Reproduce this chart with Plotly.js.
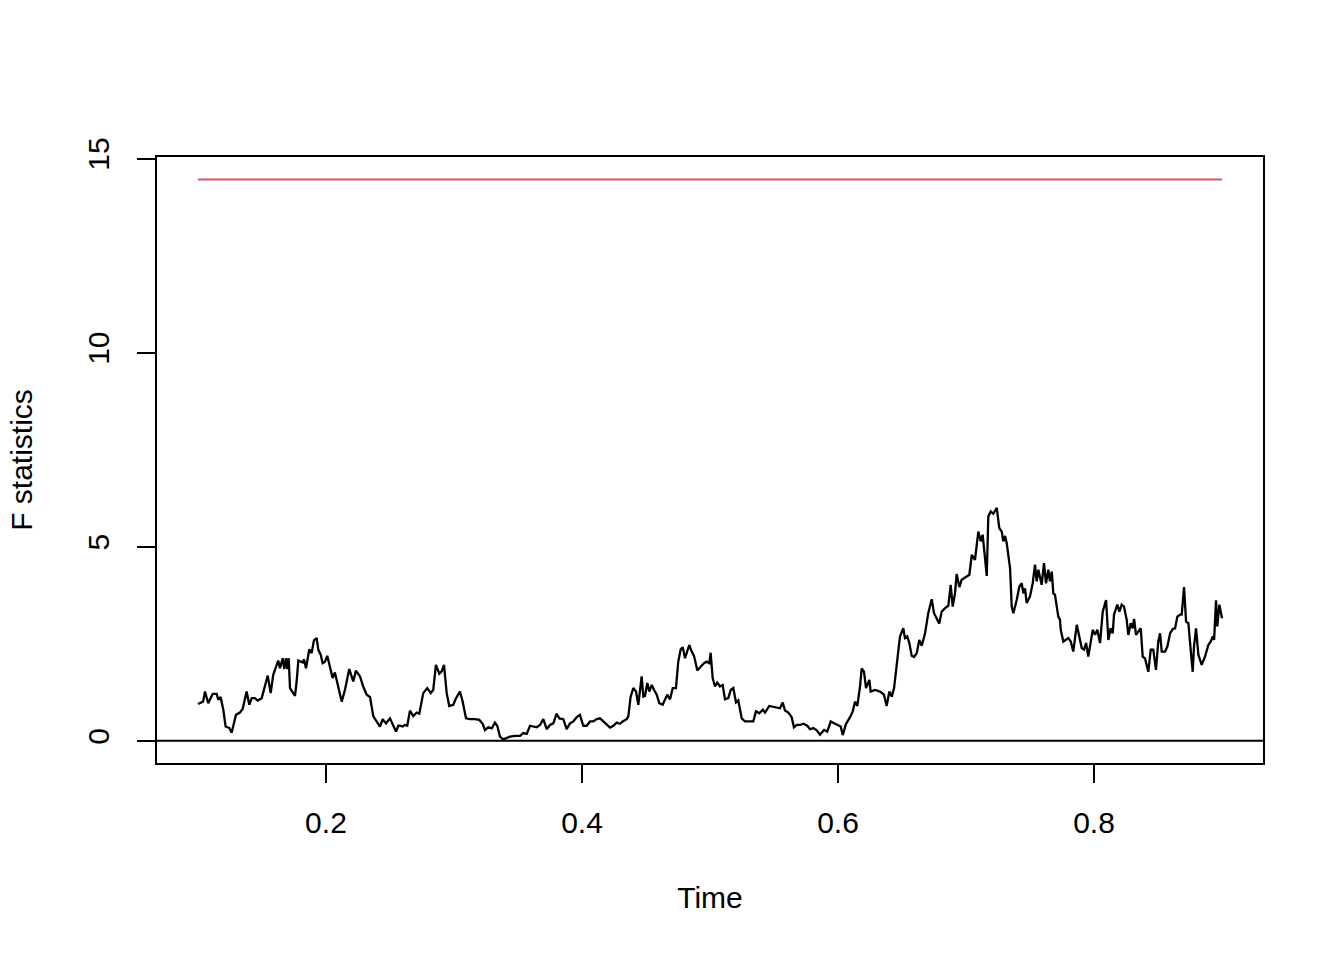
<!DOCTYPE html>
<html>
<head>
<meta charset="utf-8">
<script src="https://cdn.plot.ly/plotly-3.0.1.min.js"></script>
<style>
  html, body { margin: 0; padding: 0; background: #ffffff; }
  #chart { width: 1344px; height: 960px; }
</style>
</head>
<body>
<div id="chart"></div>
<script>
// F statistics over time
var times = [
  0.100, 0.104, 0.1055, 0.108, 0.1115, 0.1146, 0.1159, 0.1177, 0.1198, 0.1216,
  0.1245, 0.1263, 0.1297, 0.1328, 0.1349, 0.1380, 0.1401, 0.1420, 0.1445, 0.1466,
  0.1498, 0.1523, 0.1545, 0.1568, 0.1588, 0.1627, 0.1641, 0.1662, 0.1674, 0.1688,
  0.1698, 0.1709, 0.1719, 0.1758, 0.1771, 0.1784, 0.1818, 0.1828, 0.1844, 0.1870,
  0.1888, 0.1906, 0.1927, 0.1940, 0.1959, 0.1974, 0.1992, 0.2010, 0.2026, 0.2052,
  0.2070, 0.2096, 0.2123, 0.2148, 0.2182, 0.2213, 0.2234, 0.2266, 0.2291, 0.2318,
  0.2344, 0.2370, 0.2396, 0.2422, 0.2443, 0.2469, 0.2500, 0.2526, 0.2547, 0.2565,
  0.2578, 0.2599, 0.2617, 0.2635, 0.2656, 0.2682, 0.2709, 0.2729, 0.2760, 0.2791,
  0.2818, 0.2838, 0.2859, 0.2885, 0.2904, 0.2922, 0.2943, 0.2963, 0.2995, 0.3016,
  0.3047, 0.3068, 0.3094, 0.3125, 0.3164, 0.3198, 0.3224, 0.3242, 0.3268, 0.3295,
  0.3320, 0.3338, 0.3359, 0.3385, 0.3412, 0.3438, 0.3477, 0.3516, 0.3541, 0.3568,
  0.3594, 0.3620, 0.3646, 0.3672, 0.3698, 0.3724, 0.3750, 0.3776, 0.3802, 0.3823,
  0.3854, 0.3880, 0.3906, 0.3932, 0.3959, 0.3984, 0.4010, 0.4037, 0.4063, 0.4088,
  0.4115, 0.4141, 0.4166, 0.4193, 0.4219, 0.4245, 0.4271, 0.4297, 0.4318, 0.4349,
  0.4362, 0.4380, 0.4401, 0.4422, 0.4440, 0.4466, 0.4479, 0.4492, 0.4510, 0.4526,
  0.4545, 0.4563, 0.4584, 0.4604, 0.4630, 0.4648, 0.4666, 0.4688, 0.4709, 0.4734,
  0.4752, 0.4771, 0.4787, 0.4805, 0.4823, 0.4838, 0.4857, 0.4875, 0.4891, 0.4901,
  0.4927, 0.4953, 0.4974, 0.4995, 0.5005, 0.5021, 0.5039, 0.5057, 0.5078, 0.5099,
  0.5117, 0.5143, 0.5162, 0.5182, 0.5203, 0.5221, 0.5248, 0.5273, 0.5313, 0.5338,
  0.5359, 0.5385, 0.5412, 0.5430, 0.5463, 0.5495, 0.5521, 0.5547, 0.5568, 0.5586,
  0.5612, 0.5638, 0.5656, 0.5677, 0.5703, 0.5729, 0.5760, 0.5781, 0.5807, 0.5834,
  0.5859, 0.5891, 0.5916, 0.5943, 0.5977, 0.6002, 0.6021, 0.6037, 0.6063, 0.6094,
  0.6115, 0.6133, 0.6151, 0.6172, 0.6185, 0.6203, 0.6219, 0.6245, 0.6255, 0.6289,
  0.6328, 0.6359, 0.6380, 0.6401, 0.6420, 0.6438, 0.6463, 0.6484, 0.6510, 0.6523,
  0.6541, 0.6557, 0.6576, 0.6594, 0.6615, 0.6635, 0.6654, 0.6680, 0.6705, 0.6732,
  0.6750, 0.6771, 0.6791, 0.6810, 0.6836, 0.6862, 0.6880, 0.6896, 0.6914, 0.6927,
  0.6948, 0.6966, 0.6984, 0.7005, 0.7026, 0.7045, 0.7070, 0.7096, 0.7115, 0.7130,
  0.7148, 0.7162, 0.7174, 0.7193, 0.7213, 0.7240, 0.7260, 0.7279, 0.7291, 0.7305,
  0.7318, 0.7344, 0.7357, 0.7370, 0.7396, 0.7416, 0.7435, 0.7448, 0.7461, 0.7474,
  0.7500, 0.7521, 0.7539, 0.7552, 0.7565, 0.7578, 0.7591, 0.7609, 0.7625, 0.7643,
  0.7656, 0.7670, 0.7682, 0.7695, 0.7709, 0.7721, 0.7734, 0.7740, 0.7760, 0.7781,
  0.7799, 0.7818, 0.7838, 0.7865, 0.7885, 0.7904, 0.7922, 0.7938, 0.7955, 0.7974,
  0.7990, 0.8008, 0.8026, 0.8047, 0.8068, 0.8094, 0.8112, 0.8130, 0.8146, 0.8156,
  0.8182, 0.8198, 0.8216, 0.8234, 0.8255, 0.8268, 0.8287, 0.8302, 0.8313, 0.8328,
  0.8346, 0.8365, 0.8380, 0.8398, 0.8424, 0.8443, 0.8463, 0.8484, 0.8502, 0.8516,
  0.8529, 0.8555, 0.8573, 0.8594, 0.8615, 0.8633, 0.8651, 0.8672, 0.8685, 0.8703,
  0.8719, 0.8737, 0.8755, 0.8771, 0.8781, 0.8797, 0.8815, 0.8841, 0.8867, 0.8893,
  0.8912, 0.8927, 0.8938, 0.8953, 0.8963, 0.8979, 0.9000
];

var fstats = [
  0.95, 1.01, 1.27, 0.97, 1.21, 1.21, 1.06, 1.13, 0.80, 0.37,
  0.33, 0.21, 0.67, 0.73, 0.82, 1.27, 0.93, 1.10, 1.10, 1.04,
  1.10, 1.40, 1.68, 1.23, 1.70, 2.07, 1.87, 2.13, 1.85, 2.13,
  1.85, 2.13, 1.36, 1.16, 1.53, 2.07, 2.02, 2.10, 1.87, 2.36,
  2.26, 2.59, 2.65, 2.35, 2.22, 2.00, 2.04, 2.19, 1.96, 1.62,
  1.76, 1.40, 1.01, 1.31, 1.85, 1.53, 1.81, 1.66, 1.40, 1.19,
  1.13, 0.63, 0.50, 0.37, 0.56, 0.45, 0.58, 0.37, 0.24, 0.39,
  0.39, 0.37, 0.41, 0.39, 0.78, 0.64, 0.73, 0.70, 1.23, 1.36,
  1.23, 1.31, 1.96, 1.73, 1.79, 1.96, 1.23, 0.90, 0.93, 1.10,
  1.27, 1.01, 0.58, 0.56, 0.56, 0.54, 0.44, 0.28, 0.35, 0.32,
  0.47, 0.39, 0.11, 0.04, 0.07, 0.11, 0.13, 0.13, 0.20, 0.18,
  0.39, 0.37, 0.35, 0.41, 0.56, 0.30, 0.41, 0.45, 0.70, 0.58,
  0.56, 0.30, 0.45, 0.50, 0.61, 0.67, 0.39, 0.39, 0.50, 0.50,
  0.56, 0.58, 0.50, 0.41, 0.34, 0.39, 0.47, 0.44, 0.50, 0.56,
  0.63, 1.14, 1.36, 1.27, 0.93, 1.66, 1.14, 1.16, 1.49, 1.27,
  1.44, 1.31, 1.19, 0.97, 0.93, 1.06, 1.19, 1.07, 1.36, 1.36,
  2.04, 2.36, 2.41, 2.13, 2.30, 2.47, 2.30, 2.19, 1.96, 1.81,
  1.91, 2.00, 2.04, 2.00, 2.27, 1.62, 1.40, 1.50, 1.40, 1.44,
  1.07, 1.10, 1.31, 1.36, 0.99, 1.04, 0.58, 0.50, 0.50, 0.50,
  0.76, 0.71, 0.80, 0.73, 0.90, 0.88, 0.87, 0.84, 0.99, 0.78,
  0.73, 0.61, 0.35, 0.41, 0.41, 0.44, 0.39, 0.30, 0.33, 0.27,
  0.16, 0.28, 0.24, 0.50, 0.44, 0.39, 0.37, 0.15, 0.44, 0.61,
  0.76, 1.01, 0.90, 1.40, 1.87, 1.78, 1.36, 1.57, 1.27, 1.31,
  1.27, 1.19, 0.90, 1.27, 1.14, 1.36, 2.04, 2.69, 2.90, 2.65,
  2.69, 2.52, 2.19, 2.16, 2.26, 2.60, 2.45, 2.77, 3.29, 3.65,
  3.29, 3.16, 3.02, 3.33, 3.42, 3.48, 4.02, 3.46, 3.80, 4.30,
  3.96, 4.15, 4.19, 4.24, 4.28, 4.79, 4.66, 5.39, 5.14, 5.31,
  4.66, 4.25, 5.78, 5.91, 5.85, 6.00, 5.48, 5.39, 5.14, 5.28,
  5.09, 4.45, 3.46, 3.29, 3.63, 3.97, 4.06, 3.80, 3.93, 3.55,
  3.72, 4.06, 4.54, 4.11, 4.41, 4.24, 4.02, 4.58, 4.06, 4.41,
  4.11, 4.36, 3.80, 3.76, 3.38, 3.20, 3.12, 2.86, 2.56, 2.60,
  2.65, 2.56, 2.30, 2.99, 2.69, 2.39, 2.35, 2.52, 2.17, 2.56,
  2.86, 2.73, 2.86, 2.52, 3.33, 3.63, 2.60, 2.90, 2.77, 3.25,
  3.51, 3.33, 3.51, 3.46, 3.12, 2.73, 3.03, 2.90, 3.14, 2.73,
  2.82, 2.90, 2.17, 2.13, 1.78, 2.35, 2.35, 1.83, 2.56, 2.77,
  2.30, 2.30, 2.43, 2.77, 2.88, 2.90, 3.20, 3.25, 3.25, 3.96,
  3.07, 3.03, 2.35, 1.78, 2.43, 2.90, 2.22, 1.96, 2.17, 2.47,
  2.56, 2.69, 2.60, 3.62, 2.95, 3.51, 3.16
];

// boundary (critical value) and the reference line at zero
var critTimes = [0.1, 0.9];
var critValue = 14.46;
var refLevel = 0;

var xTicks = [0.2, 0.4, 0.6, 0.8];
var xTickLabels = ["0.2", "0.4", "0.6", "0.8"];
var yTicks = [0, 5, 10, 15];
var yTickLabels = ["0", "5", "10", "15"];

var fontFamily = "Liberation Sans, Arial, sans-serif";
var fontSize = 30;

var traces = [
  {
    x: times,
    y: fstats,
    type: "scatter",
    mode: "lines",
    line: {color: "#000000", width: 2.3},
    hoverinfo: "skip"
  },
  {
    x: critTimes,
    y: critTimes.map(function () { return critValue; }),
    type: "scatter",
    mode: "lines",
    line: {color: "#DF536B", width: 2.2},
    hoverinfo: "skip"
  }
];

var layout = {
  width: 1344,
  height: 960,
  showlegend: false,
  paper_bgcolor: "#ffffff",
  plot_bgcolor: "#ffffff",
  margin: {l: 157, r: 81, t: 157, b: 197},
  font: {family: fontFamily, size: fontSize, color: "#000000"},
  xaxis: {
    range: [0.068, 0.932],
    tickvals: xTicks,
    ticktext: xTickLabels,
    ticks: "outside",
    ticklen: 18,
    tickwidth: 2,
    tickcolor: "#000000",
    ticklabelstandoff: 14,
    showline: true,
    mirror: true,
    linecolor: "#000000",
    linewidth: 2,
    showgrid: false,
    zeroline: false,
    automargin: false,
    tickfont: {family: fontFamily, size: fontSize},
    title: {text: "Time", font: {family: fontFamily, size: fontSize}, standoff: 49}
  },
  yaxis: {
    range: [-0.57, 15.04],
    tickvals: yTicks,
    ticktext: yTickLabels,
    tickangle: -90,
    ticks: "outside",
    ticklen: 18,
    tickwidth: 2,
    tickcolor: "#000000",
    ticklabelstandoff: 16,
    showline: true,
    mirror: true,
    linecolor: "#000000",
    linewidth: 2,
    showgrid: false,
    zeroline: false,
    automargin: false,
    tickfont: {family: fontFamily, size: fontSize},
    title: {text: "F statistics", font: {family: fontFamily, size: fontSize}, standoff: 41}
  },
  shapes: [
    {
      type: "line",
      xref: "paper",
      yref: "y",
      x0: 0,
      x1: 1,
      y0: refLevel,
      y1: refLevel,
      line: {color: "#000000", width: 2}
    }
  ]
};

Plotly.newPlot("chart", traces, layout, {staticPlot: true, displayModeBar: false});
</script>
</body>
</html>
